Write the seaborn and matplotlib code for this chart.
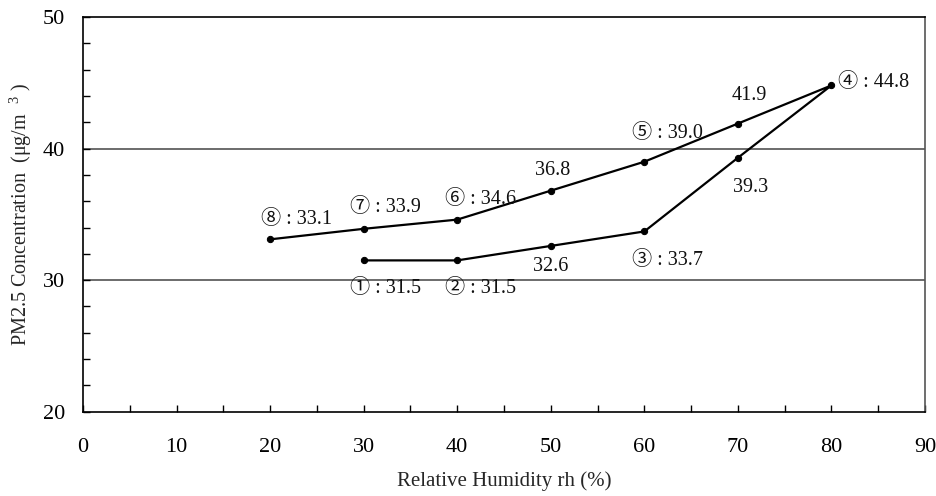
import matplotlib
matplotlib.use("Agg")
import matplotlib.pyplot as plt
from matplotlib.ticker import MultipleLocator
import seaborn as sns
import pandas as pd

# Data (path order ① -> ⑧)
rh = [30, 40, 50, 60, 70, 80, 70, 60, 50, 40, 30, 20]
pm25 = [31.5, 31.5, 32.6, 33.7, 39.3, 44.8, 41.9, 39.0, 36.8, 34.6, 33.9, 33.1]
point_labels = ["① : 31.5", "② : 31.5", "32.6", "③ : 33.7", "39.3", "④ : 44.8",
                "41.9", "⑤ : 39.0", "36.8", "⑥ : 34.6", "⑦ : 33.9", "⑧ : 33.1"]
x_ticks = [0, 10, 20, 30, 40, 50, 60, 70, 80, 90]
y_ticks = [20, 30, 40, 50]

# label offsets in pixels (dx, dy) relative to each point
label_offsets_px = [(22, -28), (23, -28), (0, -21), (23, -29), (13, -30), (42, 3),
                    (11, 28), (23, 28), (2, 20), (23, 20), (22, 21), (26, 20)]

sns.set_theme(style="white")
fam = ["Liberation Serif", "Noto Sans CJK JP", "DejaVu Sans"]
plt.rcParams["font.family"] = fam
plt.rcParams["mathtext.fontset"] = "custom"
plt.rcParams["mathtext.rm"] = "Liberation Serif"

fig = plt.figure(figsize=(9.37, 4.96), dpi=100)
ax = fig.add_axes([83 / 937, 1 - 411.7 / 496, (925 - 83) / 937, (411.7 - 17) / 496])

df = pd.DataFrame({"rh": rh, "pm": pm25})
sns.lineplot(data=df, x="rh", y="pm", sort=False, estimator=None, color="black",
             linewidth=1.6, marker="o", markersize=4.5, markeredgecolor="black", ax=ax)

for x, y, lab, (dx, dy) in zip(rh, pm25, point_labels, label_offsets_px):
    ax.annotate(lab, (x, y), xytext=(dx * 0.72, dy * 0.72), textcoords="offset points",
                ha="center", va="center", fontsize=14.5, family=fam, color="#111111")

ax.set_xlim(0, 90)
ax.set_ylim(20, 50)
ax.set_xticks(x_ticks)
ax.set_yticks(y_ticks)
ax.xaxis.set_minor_locator(MultipleLocator(5))
ax.yaxis.set_minor_locator(MultipleLocator(2))
ax.tick_params(axis="both", which="both", direction="in", colors="black",
               bottom=True, left=True, top=False, right=False)
ax.tick_params(axis="both", which="major", length=5, width=1)
ax.tick_params(axis="both", which="minor", length=5, width=1)
ax.tick_params(axis="x", which="major", labelsize=16, pad=19)
ax.tick_params(axis="y", which="major", labelsize=16, pad=13)

for yv in [30, 40]:
    ax.axhline(yv, color="#444444", linewidth=1.1, zorder=0)

for s in ax.spines.values():
    s.set_color("black")
    s.set_linewidth(1.2)
ax.spines["right"].set_color("#555555")

ax.set_xlabel("Relative Humidity rh (%)", fontsize=15, labelpad=10)
ax.set_ylabel("PM2.5 Concentration  (μg/m  $^{3}$ )", fontsize=14.5, labelpad=6)

fig.savefig("out.png", dpi=100, facecolor="white")
